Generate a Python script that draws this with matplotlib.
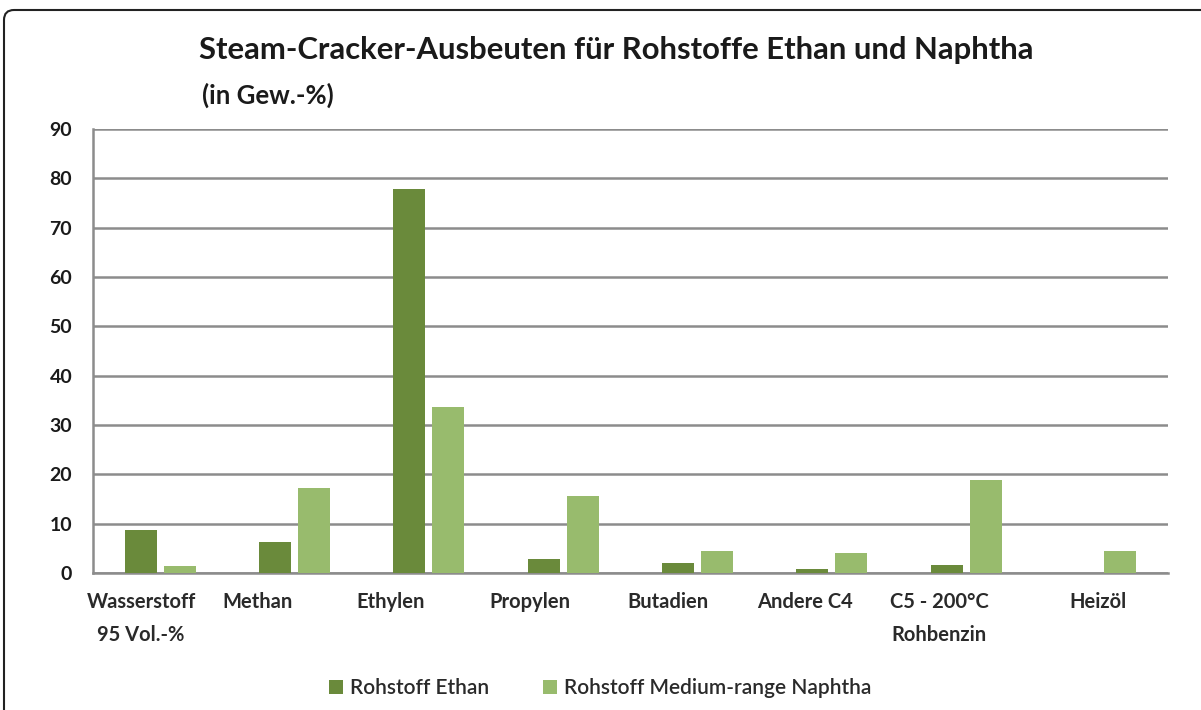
import numpy as np
import matplotlib.pyplot as plt
from matplotlib.patches import FancyBboxPatch

categories = ["Wasserstoff\n95 Vol.-%", "Methan", "Ethylen", "Propylen",
              "Butadien", "Andere C4", "C5 - 200°C\nRohbenzin", "Heizöl"]
ethan = [8.7, 6.3, 77.9, 2.8, 2.0, 0.8, 1.7, 0.0]
naphtha = [1.4, 17.2, 33.7, 15.6, 4.5, 4.1, 18.8, 4.5]
yticks = [0, 10, 20, 30, 40, 50, 60, 70, 80, 90]

plt.rcParams['font.family'] = ['Lato', 'DejaVu Sans']

fig = plt.figure(figsize=(12.01, 7.10), dpi=100)
ax = fig.add_axes([0.0774, 0.193, 0.895, 0.6254])

x = np.arange(len(categories))
w = 0.238
off = 0.145
ax.bar(x - off, ethan, w, color="#6a8a3b", label="Rohstoff Ethan", zorder=3)
ax.bar(x + off, naphtha, w, color="#98bb6d",
       label="Rohstoff Medium-range Naphtha", zorder=3)

ax.set_ylim(0, 90)
ax.set_xlim(-0.5, len(categories) - 0.5)
ax.set_yticks(yticks)
ax.yaxis.grid(True, color="#8c8c8c", linewidth=1.8, zorder=0)
ax.tick_params(axis="y", length=0, pad=15, labelsize=14, labelcolor="#1a1a1a")
ax.tick_params(axis="x", length=0, pad=14, labelsize=14.5, labelcolor="#2a2a2a")
for lab in ax.get_yticklabels():
    lab.set_fontweight("bold")

# labels sit a bit left of the group centres in the original
label_shift = np.array([-19, -37, -38, -33, -30, -27, -27, -3]) / 134.3
ax.set_xticks(x + label_shift)
ax.set_xticklabels(categories, fontweight="bold", linespacing=1.8)

for s in ["top", "right"]:
    ax.spines[s].set_visible(False)
for s in ["left", "bottom"]:
    ax.spines[s].set_color("#8c8c8c")
    ax.spines[s].set_linewidth(1.8)

fig.text(0.166, 0.93, "Steam-Cracker-Ausbeuten für Rohstoffe Ethan und Naphtha",
         fontsize=22.3, fontweight="bold", va="center", color="#1a1a1a")
fig.text(0.168, 0.866, "(in Gew.-%)", fontsize=18.5, fontweight="bold",
         va="center", color="#1a1a1a")

leg = fig.legend(loc="center", bbox_to_anchor=(0.5, 0.031), ncol=2, frameon=False,
                 prop={"size": 15, "weight": "semibold"}, handlelength=0.65,
                 handleheight=0.65, handletextpad=0.35, columnspacing=2.6)
for t in leg.get_texts():
    t.set_color("#2a2a2a")

frame = FancyBboxPatch((0.04, -1.0), 13.0, 8.0,
                       boxstyle="round,pad=0,rounding_size=0.1",
                       transform=fig.dpi_scale_trans, fill=False, edgecolor="#222222",
                       linewidth=1.5, clip_on=False)
fig.patches.append(frame)

fig.savefig("out.png", dpi=100)
